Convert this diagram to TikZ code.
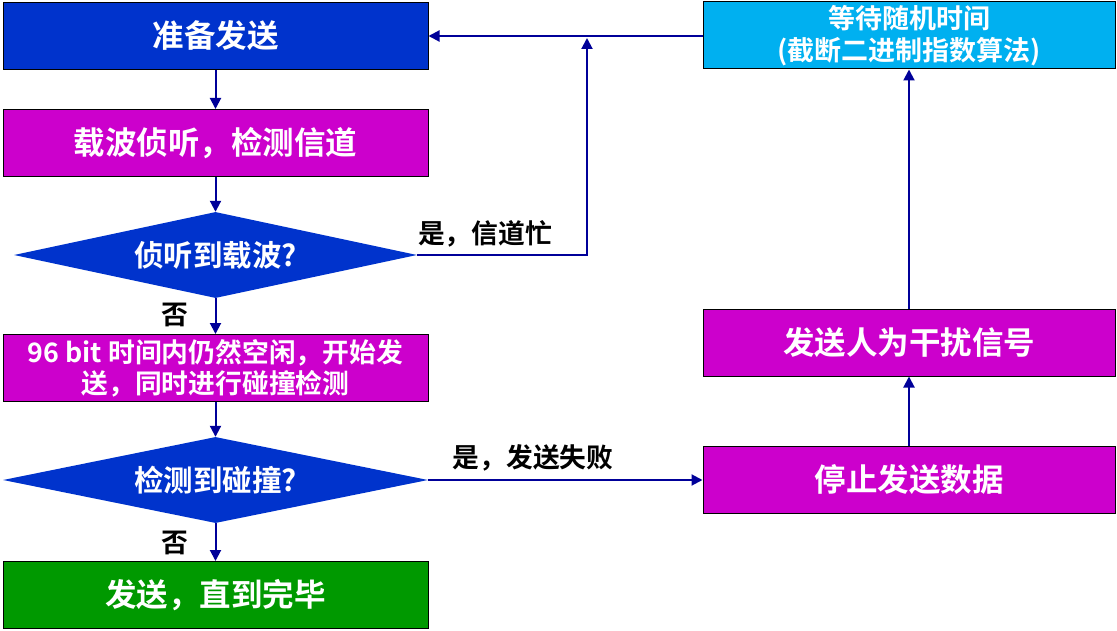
\documentclass[tikz,border=0pt]{standalone}
\usepackage{fontspec}
\setmainfont{Noto Sans CJK SC}[BoldFont={* Bold}]
\usetikzlibrary{arrows.meta,shapes.geometric}
\definecolor{stepblue}{RGB}{0,51,204}
\definecolor{stepmagenta}{RGB}{204,0,204}
\definecolor{stepgreen}{RGB}{0,153,0}
\definecolor{stepcyan}{RGB}{0,176,240}
\definecolor{linenavy}{RGB}{0,0,153}

\begin{document}
\begin{tikzpicture}[
    x=1pt, y=-1pt,
    box/.style = {
      shape=rectangle,
      draw=black,
      line width=1pt,
      text=white,
      font=\bfseries\fontsize{31.5}{36}\selectfont,
      align=center,
      inner sep=0pt,
      minimum height=67pt
    },
    leftbox/.style = {box, minimum width=425pt},
    rightbox/.style = {box, minimum width=412pt},
    decision/.style = {
      shape=diamond,
      fill=stepblue,
      text=white,
      font=\bfseries\fontsize{29.5}{34}\selectfont,
      inner sep=0pt,
      aspect=4.7,
      minimum height=86pt
    },
    arrow/.style = {
      draw=linenavy,
      line width=2pt,
      -{Triangle[length=11pt,width=11pt]}
    },
    label/.style = {
      font=\bfseries\fontsize{26.8}{30}\selectfont,
      text=black
    }
  ]

    \useasboundingbox (0,0) rectangle (1117,631);

    % Left column
    \node[leftbox, fill=stepblue] (prepare) at (215.5, 36) {准备发送};
    \node[leftbox, fill=stepmagenta] (sense) at (215.5, 143) {载波侦听，检测信道};
    \node[decision, minimum width=403pt] (carrier) at (215.5, 255) {侦听到载波?};
    \node[leftbox, fill=stepmagenta, font=\bfseries\fontsize{26.8}{31}\selectfont] (transmit) at (215.5, 368)
      {96 bit 时间内仍然空闲，开始发\\送，同时进行碰撞检测};
    \node[decision, minimum width=425pt] (collision) at (215.5, 480) {检测到碰撞?};
    \node[leftbox, fill=stepgreen] (finish) at (215.5, 595) {发送，直到完毕};

    % Right column
    \node[rightbox, fill=stepcyan, font=\bfseries\fontsize{27}{32}\selectfont] (backoff) at (909, 35.5)
      {等待随机时间\\(截断二进制指数算法)};
    \node[rightbox, fill=stepmagenta] (jam) at (909, 342.5) {发送人为干扰信号};
    \node[rightbox, fill=stepmagenta] (stop) at (909, 480) {停止发送数据};

    % Corner of the busy branch
    \coordinate (busycorner) at (587, 255);
    \coordinate (busyend) at (587, 38);

    % Arrows
    \draw[arrow] (prepare) -- (sense);
    \draw[arrow] (sense) -- (carrier);
    \draw[arrow] (carrier) -- (transmit);
    \draw[arrow] (transmit) -- (collision);
    \draw[arrow] (collision) -- (finish);
    \draw[arrow] (collision) -- (stop);
    \draw[arrow] (stop) -- (jam);
    \draw[arrow] (jam) -- (backoff);
    \draw[arrow] (backoff.west |- prepare.east) -- (prepare.east);
    \draw[arrow] (carrier.east) -- (busycorner) -- (busyend);

    % Labels
    \node[label] (no1) at (175, 315) {否};
    \node[label] (no2) at (175, 543) {否};
    \node[label] (busy) at (485, 234) {是，信道忙};
    \node[label] (fail) at (533, 458) {是，发送失败};

  \end{tikzpicture}
\end{document}
